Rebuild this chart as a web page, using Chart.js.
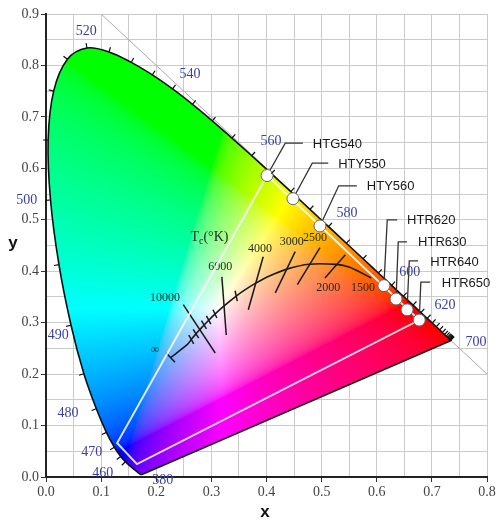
<!DOCTYPE html>
<html>
<head>
<meta charset="utf-8">
<script src="https://cdn.jsdelivr.net/npm/chart.js@4.4.1/dist/chart.umd.min.js"></script>
<style>
  html, body { margin: 0; padding: 0; background: #fff; }
  #wrap { width: 500px; height: 526px; }
</style>
</head>
<body>
<div id="wrap"><canvas id="cie"></canvas></div>
<script>
// spectral locus (CIE 1931 2 deg), wavelength in nm
const waveNm = [380,385,390,395,400,405,410,415,420,425,430,435,440,445,450,455,460,465,470,475,480,485,490,495,500,505,510,515,520,525,530,535,540,545,550,555,560,565,570,575,580,585,590,595,600,605,610,615,620,625,630,635,640,645,650,655,660,665,670,675,680,690,700];
const locusX = [0.1741,0.1740,0.1738,0.1736,0.1733,0.1730,0.1726,0.1721,0.1714,0.1703,0.1689,0.1669,0.1644,0.1611,0.1566,0.1510,0.1440,0.1355,0.1241,0.1096,0.0913,0.0687,0.0454,0.0235,0.0082,0.0039,0.0139,0.0389,0.0743,0.1142,0.1547,0.1929,0.2296,0.2658,0.3016,0.3373,0.3731,0.4087,0.4441,0.4788,0.5125,0.5448,0.5752,0.6029,0.6270,0.6482,0.6658,0.6801,0.6915,0.7006,0.7079,0.7140,0.7190,0.7230,0.7260,0.7283,0.7300,0.7311,0.7320,0.7327,0.7334,0.7344,0.7347];
const locusY = [0.0050,0.0050,0.0049,0.0049,0.0048,0.0048,0.0048,0.0048,0.0051,0.0058,0.0069,0.0086,0.0109,0.0138,0.0177,0.0227,0.0297,0.0399,0.0578,0.0868,0.1327,0.2007,0.2950,0.4127,0.5384,0.6548,0.7502,0.8120,0.8338,0.8262,0.8059,0.7816,0.7543,0.7243,0.6923,0.6589,0.6245,0.5896,0.5547,0.5202,0.4866,0.4544,0.4242,0.3965,0.3725,0.3514,0.3340,0.3197,0.3083,0.2993,0.2920,0.2859,0.2809,0.2770,0.2740,0.2717,0.2700,0.2689,0.2680,0.2673,0.2666,0.2656,0.2653];

// blue wavelength labels
const waveLabels = ['520','540','560','580','600','620','700','500','490','480','470','460','380'];
const waveLabelX = [0.073,0.261,0.408,0.546,0.660,0.724,0.780,-0.035,0.022,0.040,0.083,0.103,0.212];
const waveLabelY = [0.866,0.783,0.653,0.513,0.398,0.334,0.262,0.538,0.276,0.124,0.047,0.008,-0.006];

// Planckian locus, from infinity down to 1500 K
const planckX = [0.226,0.2565,0.2637,0.2719,0.2807,0.2869,0.2952,0.3064,0.3221,0.3451,0.3608,0.3805,0.4053,0.4369,0.4770,0.5267,0.5498,0.590];
const planckY = [0.232,0.2577,0.2674,0.2782,0.2884,0.2956,0.3048,0.3166,0.3318,0.3516,0.3636,0.3768,0.3907,0.4041,0.4137,0.4133,0.4081,0.387];

// isotherm segments (start x,y / end x,y)
const isoX1 = [0.249,0.319,0.394,0.452,0.497,0.543,0.282,0.291,0.303,0.267,0.259,0.343,0.218];
const isoY1 = [0.335,0.389,0.428,0.438,0.446,0.432,0.304,0.313,0.325,0.287,0.276,0.362,0.241];
const isoX2 = [0.307,0.327,0.367,0.416,0.456,0.506,0.291,0.299,0.310,0.277,0.268,0.347,0.234];
const isoY2 = [0.241,0.276,0.325,0.358,0.374,0.387,0.288,0.297,0.309,0.270,0.259,0.342,0.223];

const tempLabels = ['10000','6000','4000','3000','2500','2000','1500','\u221e'];
const tempLabelX = [0.216,0.316,0.388,0.446,0.488,0.512,0.575,0.198];
const tempLabelY = [0.348,0.409,0.443,0.457,0.464,0.367,0.367,0.247];

// LED gamut and markers
const gamutX = [0.401,0.129,0.165,0.677,0.401];
const gamutY = [0.586,0.066,0.025,0.305,0.586];

const ledNames = ['HTG540','HTY550','HTY560','HTR620','HTR630','HTR640','HTR650'];
const ledX = [0.401,0.448,0.497,0.613,0.635,0.655,0.677];
const ledY = [0.586,0.541,0.488,0.372,0.346,0.325,0.305];
const elbowX = [0.434,0.483,0.531,0.619,0.639,0.659,0.680];
const elbowY = [0.649,0.610,0.566,0.500,0.457,0.420,0.379];
const leaderEndX = [0.466,0.512,0.564,0.637,0.655,0.675,0.697];
const ledLabelX = [0.484,0.530,0.582,0.655,0.675,0.697,0.718];

const diagX = [0.1,0.8];
const diagY = [0.9,0.2];

function pts(xs, ys) {
  let out = [];
  for (let i = 0; i < xs.length; i++) out.push({x: xs[i], y: ys[i]});
  return out;
}

function gam(c) {
  return c <= 0.0031308 ? 12.92 * c : 1.055 * Math.pow(c, 1 / 2.4) - 0.055;
}

function xyToRgb(x, y) {
  const X = x / y, Y = 1, Z = (1 - x - y) / y;
  let r = 3.2406 * X - 1.5372 * Y - 0.4986 * Z;
  let g = -0.9689 * X + 1.8758 * Y + 0.0415 * Z;
  let b = 0.0557 * X - 0.2040 * Y + 1.0570 * Z;
  r = Math.max(r, 0); g = Math.max(g, 0); b = Math.max(b, 0);
  const m = Math.max(r, g, b) || 1;
  return [gam(r / m) * 255, gam(g / m) * 255, gam(b / m) * 255];
}

function isMajor(v) {
  return Math.abs(v * 10 - Math.round(v * 10)) < 1e-6;
}

// colour the inside of the locus (clipped by the locus line itself), plus the Planckian labels
const colourFill = {
  id: 'colourFill',
  beforeDatasetsDraw(chart) {
    const {ctx, chartArea: a, scales: {x, y}} = chart;
    const w = Math.ceil(a.right - a.left), h = Math.ceil(a.bottom - a.top);
    const off = document.createElement('canvas');
    off.width = w; off.height = h;
    const octx = off.getContext('2d');
    const img = octx.createImageData(w, h);
    for (let j = 0; j < h; j++) {
      const vy = y.getValueForPixel(a.top + j + 0.5);
      if (vy <= 0.001) continue;
      for (let i = 0; i < w; i++) {
        const vx = x.getValueForPixel(a.left + i + 0.5);
        const c = xyToRgb(vx, vy);
        const k = (j * w + i) * 4;
        img.data[k] = c[0]; img.data[k + 1] = c[1]; img.data[k + 2] = c[2]; img.data[k + 3] = 255;
      }
    }
    octx.putImageData(img, 0, 0);
    ctx.save();
    ctx.beginPath();
    chart.getDatasetMeta(0).dataset.path(ctx);
    ctx.closePath();
    ctx.clip();
    ctx.drawImage(off, a.left, a.top);
    ctx.restore();

    ctx.save();
    ctx.fillStyle = '#1c2a1c';
    ctx.font = '12px "Liberation Serif"';
    ctx.textAlign = 'center';
    ctx.textBaseline = 'middle';
    for (let i = 0; i < tempLabels.length; i++) {
      ctx.fillText(tempLabels[i], x.getPixelForValue(tempLabelX[i]), y.getPixelForValue(tempLabelY[i]));
    }
    // Tc(°K)
    let tx = x.getPixelForValue(0.262), ty = y.getPixelForValue(0.466);
    ctx.textAlign = 'left';
    ctx.font = '14px "Liberation Serif"';
    ctx.fillText('T', tx, ty);
    tx += ctx.measureText('T').width;
    ctx.font = '10px "Liberation Serif"';
    ctx.fillText('c', tx, ty + 4);
    tx += ctx.measureText('c').width;
    ctx.font = '14px "Liberation Serif"';
    ctx.fillText('(\u00b0K)', tx, ty);
    ctx.restore();
  },
  afterDatasetsDraw(chart) {
    const {ctx, scales: {x, y}} = chart;
    ctx.save();
    // small wavelength ticks on the locus
    ctx.strokeStyle = '#111';
    ctx.lineWidth = 1.2;
    const cx = x.getPixelForValue(0.33), cy = y.getPixelForValue(0.33);
    for (let i = 16; i < waveNm.length - 1; i++) {
      const px = x.getPixelForValue(locusX[i]), py = y.getPixelForValue(locusY[i]);
      const tx = x.getPixelForValue(locusX[i + 1]) - x.getPixelForValue(locusX[i - 1]);
      const ty = y.getPixelForValue(locusY[i + 1]) - y.getPixelForValue(locusY[i - 1]);
      const len = Math.hypot(tx, ty) || 1;
      let nx = ty / len, ny = -tx / len;
      if ((px - cx) * nx + (py - cy) * ny < 0) { nx = -nx; ny = -ny; }
      ctx.beginPath();
      ctx.moveTo(px, py);
      ctx.lineTo(px + nx * 5, py + ny * 5);
      ctx.stroke();
    }
    // wavelength labels
    ctx.fillStyle = '#3b3f9e';
    ctx.font = '14px "Liberation Serif"';
    ctx.textAlign = 'center';
    ctx.textBaseline = 'middle';
    for (let i = 0; i < waveLabels.length; i++) {
      ctx.fillText(waveLabels[i], x.getPixelForValue(waveLabelX[i]), y.getPixelForValue(waveLabelY[i]));
    }
    // LED labels
    ctx.fillStyle = '#1a1a1a';
    ctx.font = '13px "Liberation Sans"';
    ctx.textAlign = 'left';
    for (let i = 0; i < ledNames.length; i++) {
      ctx.fillText(ledNames[i], x.getPixelForValue(ledLabelX[i]), y.getPixelForValue(elbowY[i]) + 1);
    }
    // axis titles
    ctx.fillStyle = '#111';
    ctx.font = 'bold 17px "Liberation Sans"';
    ctx.textAlign = 'center';
    ctx.fillText('x', 265, 512);
    ctx.fillText('y', 13, 243);
    ctx.restore();
  }
};

let datasets = [];
datasets.push({ data: pts(locusX.concat([locusX[0]]), locusY.concat([locusY[0]])), showLine: true, tension: 0.35, borderColor: '#111', borderWidth: 1.6, pointRadius: 0, order: 2 });
datasets.push({ data: pts(gamutX, gamutY), showLine: true, borderColor: 'rgba(255,255,255,0.85)', borderWidth: 2, pointRadius: 0, order: 3 });
datasets.push({ data: pts(planckX, planckY), showLine: true, tension: 0.3, borderColor: '#1a1a1a', borderWidth: 1.6, pointRadius: 0, order: 5 });
for (let i = 0; i < isoX1.length; i++) {
  datasets.push({ data: pts([isoX1[i], isoX2[i]], [isoY1[i], isoY2[i]]), showLine: true, borderColor: '#1a1a1a', borderWidth: 1.5, pointRadius: 0, order: 6 });
}
datasets.push({ data: pts(diagX, diagY), showLine: true, borderColor: '#aaa', borderWidth: 1, pointRadius: 0, order: 7 });
for (let i = 0; i < ledNames.length; i++) {
  datasets.push({ data: pts([ledX[i], elbowX[i], leaderEndX[i]], [ledY[i], elbowY[i], elbowY[i]]), showLine: true, borderColor: '#333', borderWidth: 1.3, pointRadius: 0, order: 1 });
}
datasets.push({ data: pts(ledX, ledY), showLine: false, pointRadius: 6, pointBackgroundColor: '#fff', pointBorderColor: '#666', pointBorderWidth: 1, order: 0 });

const tickFont = { family: '"Liberation Serif"', size: 14 };

new Chart(document.getElementById('cie'), {
  type: 'scatter',
  data: { datasets: datasets },
  options: {
    responsive: true,
    maintainAspectRatio: false,
    animation: false,
    layout: { padding: { top: 14, right: 13, left: 0, bottom: 0 } },
    plugins: { legend: { display: false }, tooltip: { enabled: false } },
    scales: {
      x: {
        min: 0, max: 0.8,
        afterFit: s => { s.height = 49; },
        ticks: { stepSize: 0.05, color: '#444', font: tickFont, padding: 2, maxRotation: 0, autoSkip: false,
          callback: v => isMajor(v) ? v.toFixed(1) : '' },
        grid: { color: '#cbcbcb', tickLength: 5, tickColor: c => isMajor(c.tick.value) ? '#333' : 'rgba(0,0,0,0)' },
        border: { color: '#222', width: 2 }
      },
      y: {
        min: 0, max: 0.9,
        afterFit: s => { s.width = 46; },
        ticks: { stepSize: 0.05, color: '#444', font: tickFont, padding: 2, autoSkip: false,
          callback: v => isMajor(v) ? v.toFixed(1) : '' },
        grid: { color: '#cbcbcb', tickLength: 5, tickColor: c => isMajor(c.tick.value) ? '#333' : 'rgba(0,0,0,0)' },
        border: { color: '#222', width: 2 }
      }
    }
  },
  plugins: [colourFill]
});
</script>
</body>
</html>
